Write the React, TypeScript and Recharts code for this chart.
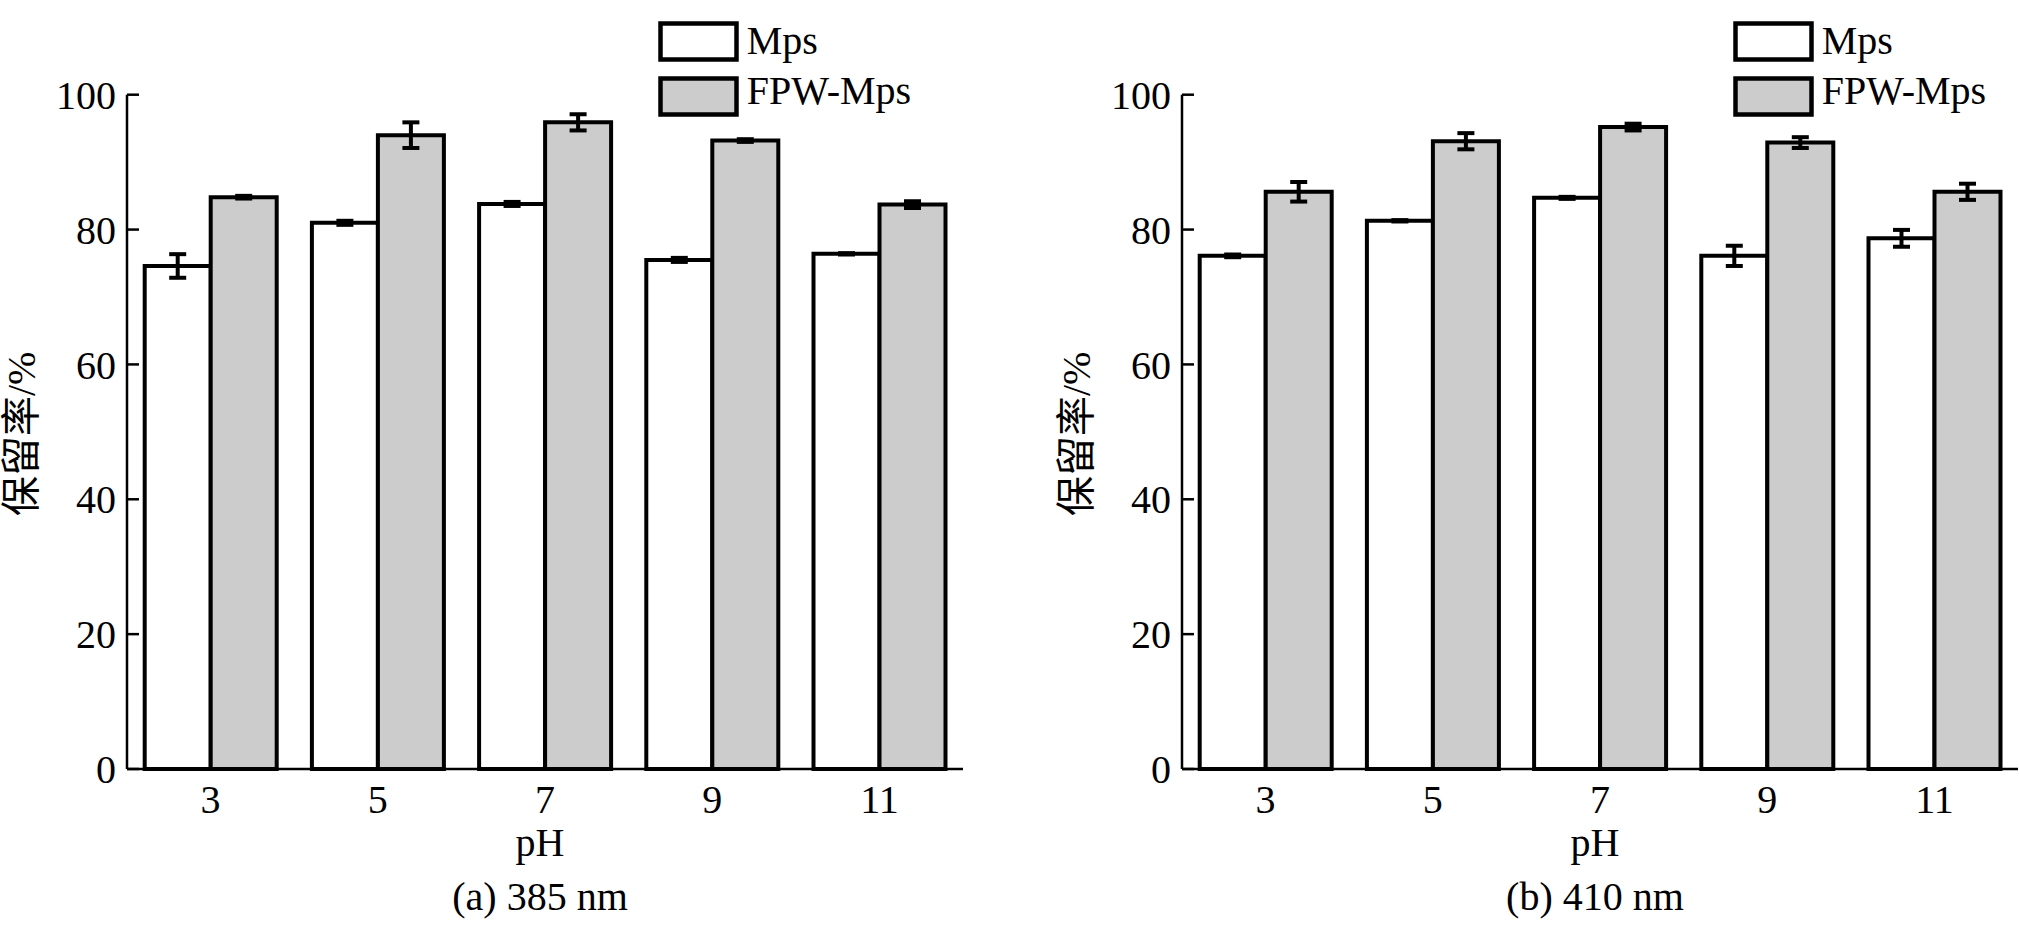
import React from 'react';
import { BarChart, Bar, XAxis, YAxis, ErrorBar, Legend } from 'recharts';

// 保留率 vs pH，两个波长（385 nm / 410 nm），Mps 与 FPW-Mps 对比

const FONT = "'Liberation Serif', 'Times New Roman', 'Noto Sans CJK SC', serif";

const phLabels = ['3', '5', '7', '9', '11'];
const yTicks = [0, 20, 40, 60, 80, 100];
const seriesNames = ['Mps', 'FPW-Mps'];

// (a) 385 nm
const mps385 = [74.6, 81.0, 83.8, 75.5, 76.4];
const mps385Err = [1.75, 0.3, 0.3, 0.3, 0.1];
const fpw385 = [84.8, 94.0, 95.9, 93.2, 83.7];
const fpw385Err = [0.2, 1.9, 1.2, 0.2, 0.5];

// (b) 410 nm
const mps410 = [76.1, 81.3, 84.7, 76.1, 78.7];
const mps410Err = [0.2, 0.1, 0.15, 1.5, 1.25];
const fpw410 = [85.6, 93.1, 95.2, 92.9, 85.6];
const fpw410Err = [1.45, 1.2, 0.5, 0.8, 1.2];

type Row = { pH: string; mps: number; mpsErr: number; fpw: number; fpwErr: number };

const buildRows = (mps: number[], mpsErr: number[], fpw: number[], fpwErr: number[]): Row[] =>
  phLabels.map((pH, i) => ({ pH, mps: mps[i], mpsErr: mpsErr[i], fpw: fpw[i], fpwErr: fpwErr[i] }));

const data385 = buildRows(mps385, mps385Err, fpw385, fpw385Err);
const data410 = buildRows(mps410, mps410Err, fpw410, fpw410Err);

const CHART_W = 964;
const CHART_H = 926;

function LegendBox() {
  const fills = ['#ffffff', '#cccccc'];
  return (
    <svg width={300} height={120} style={{ display: 'block', overflow: 'visible' }}>
      {seriesNames.map((name, i) => (
        <g key={name}>
          <rect x={5.5} y={5.5 + i * 55} width={76} height={36} fill={fills[i]} stroke="#000" strokeWidth={4.5} />
          <text x={91.7} y={36 + i * 50} fontFamily={FONT} fontSize={40} fill="#000">
            {name}
          </text>
        </g>
      ))}
    </svg>
  );
}

function YLabel(props: any) {
  const vb = props.viewBox || {};
  const cx = 22;
  const cy = vb.y + vb.height / 2 + 2;
  return (
    <text
      x={cx}
      y={cy}
      transform={`rotate(-90, ${cx}, ${cy})`}
      textAnchor="middle"
      dominantBaseline="central"
      fontFamily={FONT}
      fontSize={40}
      fill="#000"
    >
      保留率/%
    </text>
  );
}

function makeXLabel(title: string) {
  return function XLabel(props: any) {
    const vb = props.viewBox || {};
    const cx = vb.x + vb.width / 2 - 5;
    return (
      <g>
        <text x={cx} y={856} textAnchor="middle" fontFamily={FONT} fontSize={40} fill="#000">
          pH
        </text>
        <text x={cx} y={910} textAnchor="middle" fontFamily={FONT} fontSize={40} fill="#000">
          {title}
        </text>
      </g>
    );
  };
}

function Panel({ data, title, legendLeft }: { data: Row[]; title: string; legendLeft: number }) {
  return (
    <BarChart
      width={CHART_W}
      height={CHART_H}
      data={data}
      margin={{ top: 94.7, right: 1, bottom: 0, left: 0 }}
      barGap={0}
      barCategoryGap={17.7}
    >
      <XAxis
        dataKey="pH"
        height={157}
        tickLine={false}
        tickSize={0}
        tickMargin={15.6}
        axisLine={{ stroke: '#000', strokeWidth: 2.5 }}
        tick={{ fill: '#000', fontSize: 40, fontFamily: FONT }}
        label={makeXLabel(title)}
      />
      <YAxis
        width={127}
        domain={[0, 100]}
        ticks={yTicks}
        interval={0}
        tickSize={-12}
        tickMargin={23}
        axisLine={{ stroke: '#000', strokeWidth: 2.5 }}
        tickLine={{ stroke: '#000', strokeWidth: 2.5 }}
        tick={{ fill: '#000', fontSize: 40, fontFamily: FONT }}
        label={YLabel}
      />
      <Legend
        layout="vertical"
        verticalAlign="middle"
        align="center"
        content={() => <LegendBox />}
        wrapperStyle={{ left: legendLeft, top: 17.5, width: 300, height: 120, overflow: 'visible' }}
      />
      <Bar dataKey="mps" name="Mps" fill="#ffffff" stroke="#000" strokeWidth={4} isAnimationActive={false}>
        <ErrorBar dataKey="mpsErr" width={8.5} stroke="#000" strokeWidth={4} isAnimationActive={false} />
      </Bar>
      <Bar dataKey="fpw" name="FPW-Mps" fill="#cccccc" stroke="#000" strokeWidth={4} isAnimationActive={false}>
        <ErrorBar dataKey="fpwErr" width={8.5} stroke="#000" strokeWidth={4} isAnimationActive={false} />
      </Bar>
    </BarChart>
  );
}

export default function App() {
  return (
    <div style={{ position: 'absolute', left: 0, top: 0, width: 2019, height: 926, background: '#fff' }}>
      <div style={{ position: 'absolute', left: 0, top: 0 }}>
        <Panel data={data385} title="(a) 385 nm" legendLeft={655} />
      </div>
      <div style={{ position: 'absolute', left: 1055, top: 0 }}>
        <Panel data={data410} title="(b) 410 nm" legendLeft={675} />
      </div>
    </div>
  );
}
